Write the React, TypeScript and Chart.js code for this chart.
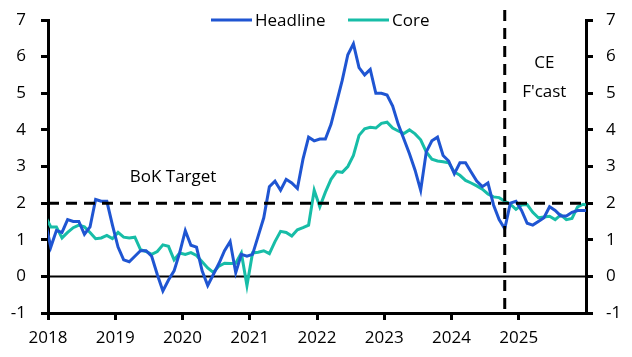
import React, { useEffect, useRef } from "react";
import { Chart, registerables } from "chart.js";

Chart.register(...registerables);

// First observation: Dec 2017 (clipped at the left edge), last: Jan 2026
const START_YEAR = 2017;
const START_MONTH = 12;

const headline = [
  1.5,
  // 2018
  0.8, 1.25, 1.2, 1.55, 1.5, 1.5, 1.15, 1.35, 2.1, 2.05, 2.05, 1.4,
  // 2019
  0.8, 0.45, 0.4, 0.55, 0.7, 0.7, 0.55, 0.05, -0.4, -0.1, 0.15, 0.65,
  // 2020
  1.25, 0.85, 0.8, 0.15, -0.25, 0.05, 0.35, 0.7, 0.95, 0.1, 0.6, 0.55,
  // 2021
  0.6, 1.1, 1.6, 2.45, 2.6, 2.35, 2.65, 2.55, 2.4, 3.2, 3.8, 3.7,
  // 2022
  3.75, 3.75, 4.15, 4.75, 5.35, 6.05, 6.35, 5.7, 5.5, 5.65, 5.0, 5.0,
  // 2023
  4.95, 4.65, 4.15, 3.75, 3.35, 2.9, 2.35, 3.4, 3.7, 3.8, 3.3, 3.15,
  // 2024
  2.8, 3.1, 3.1, 2.85, 2.6, 2.45, 2.55, 1.95, 1.55, 1.3, 2.0, 2.05,
  // 2025
  1.8, 1.45, 1.4, 1.5, 1.6, 1.9, 1.8, 1.65, 1.65, 1.75, 1.8, 1.8,
  // 2026
  1.8,
];

const core = [
  1.65,
  // 2018
  1.35, 1.35, 1.05, 1.2, 1.33, 1.4, 1.35, 1.2, 1.03, 1.05, 1.12, 1.03,
  // 2019
  1.2, 1.07, 1.05, 1.07, 0.73, 0.68, 0.6, 0.68, 0.86, 0.82, 0.45, 0.64,
  // 2020
  0.6, 0.65, 0.57, 0.4, 0.23, 0.11, 0.28, 0.36, 0.35, 0.36, 0.64, -0.25,
  // 2021
  0.64, 0.66, 0.7, 0.62, 0.95, 1.23, 1.2, 1.1, 1.27, 1.33, 1.4, 2.35,
  // 2022
  1.9, 2.3, 2.65, 2.86, 2.84, 3.0, 3.3, 3.85, 4.03, 4.07, 4.05, 4.18,
  // 2023
  4.21, 4.05, 3.97, 3.9, 4.0, 3.89, 3.73, 3.4, 3.2, 3.15, 3.13, 3.1,
  // 2024
  2.85, 2.76, 2.62, 2.55, 2.47, 2.38, 2.25, 2.17, 2.15, 2.05, 1.97, 1.83,
  // 2025
  1.95, 1.96, 1.75, 1.6, 1.62, 1.64, 1.55, 1.68, 1.55, 1.58, 1.9, 1.97,
  // 2026
  1.93,
];

const xYearTicks = [2018, 2019, 2020, 2021, 2022, 2023, 2024, 2025];
const X_MIN = 2018;
const X_MAX = 2026;
const Y_MIN = -1;
const Y_MAX = 7;
const targetRate = 2;
const forecastStart = { year: 2024, month: 10 };

const seriesNames = ["Headline", "Core"];
const seriesColors = ["#1F55D2", "#17BDA7"];

const monthToX = (year: number, month: number) => year + (month - 0.5) / 12;

const monthPositions = headline.map((_, i) => {
  const m = START_MONTH - 1 + i;
  const year = START_YEAR + Math.floor(m / 12);
  const month = (m % 12) + 1;
  return monthToX(year, month);
});

const FONT = "'Open Sans', sans-serif";

const overlayPlugin = {
  id: "overlay",
  beforeDatasetsDraw(chart: any) {
    const { ctx, chartArea, scales } = chart;
    const y = scales.y;
    const y0 = y.getPixelForValue(0);
    ctx.save();
    ctx.strokeStyle = "#000";
    ctx.lineWidth = 2;
    ctx.beginPath();
    ctx.moveTo(chartArea.left, y0);
    ctx.lineTo(chartArea.right, y0);
    ctx.stroke();
    ctx.restore();
  },
  afterDatasetsDraw(chart: any) {
    const { ctx, chartArea, scales } = chart;
    const x = scales.x;
    const y = scales.y;
    ctx.save();
    // Target line
    const y2 = y.getPixelForValue(targetRate);
    ctx.strokeStyle = "#000";
    ctx.lineWidth = 3;
    ctx.setLineDash([11, 7]);
    ctx.beginPath();
    ctx.moveTo(chartArea.left, y2);
    ctx.lineTo(chartArea.right, y2);
    ctx.stroke();
    // Forecast line
    const xf = x.getPixelForValue(monthToX(forecastStart.year, forecastStart.month));
    ctx.beginPath();
    ctx.moveTo(xf, chartArea.top - 10);
    ctx.lineTo(xf, chartArea.bottom);
    ctx.stroke();
    ctx.setLineDash([]);

    // Annotations
    ctx.fillStyle = "#000";
    ctx.font = `17px ${FONT}`;
    ctx.textAlign = "center";
    ctx.textBaseline = "middle";
    ctx.fillText("BoK Target", x.getPixelForValue(2019.86), y.getPixelForValue(2.72));
    ctx.fillText("CE", x.getPixelForValue(2025.38), y.getPixelForValue(5.83));
    ctx.fillText("F'cast", x.getPixelForValue(2025.38), y.getPixelForValue(5.04));

    // Legend
    const ly = chartArea.top;
    const legendStarts = [211, 348];
    ctx.textAlign = "left";
    seriesNames.forEach((name, i) => {
      const lx = legendStarts[i];
      ctx.strokeStyle = seriesColors[i];
      ctx.lineWidth = 3;
      ctx.beginPath();
      ctx.moveTo(lx, ly);
      ctx.lineTo(lx + 41, ly);
      ctx.stroke();
      ctx.fillStyle = "#000";
      ctx.fillText(name, lx + 44, ly + 1);
    });
    ctx.restore();
  },
};

export default function App() {
  const canvasRef = useRef<HTMLCanvasElement | null>(null);

  useEffect(() => {
    if (!canvasRef.current) return;
    Chart.defaults.font.family = FONT;
    Chart.defaults.font.size = 17;
    Chart.defaults.color = "#000";

    const axisTick = {
      drawOnChartArea: false,
      drawTicks: true,
      tickLength: 7,
      tickWidth: 3,
      tickColor: "#000",
      lineWidth: 3,
      color: "#000",
    };

    const fitY = (w: number) => (scale: any) => {
      scale.width = w;
      scale.paddingTop = 0;
      scale.paddingBottom = 0;
    };

    const chart = new Chart(canvasRef.current, {
      type: "line",
      data: {
        datasets: [headline, core].map((vals, i) => ({
          label: seriesNames[i],
          data: vals.map((v, j) => ({ x: monthPositions[j], y: v })),
          borderColor: seriesColors[i],
          backgroundColor: seriesColors[i],
          borderWidth: 3,
          pointRadius: 0,
          tension: 0,
          fill: false,
        })),
      },
      options: {
        animation: false,
        responsive: false,
        maintainAspectRatio: false,
        layout: { padding: { top: 20, left: 0, right: 0, bottom: 0 } },
        plugins: {
          legend: { display: false },
          tooltip: { enabled: false },
        },
        scales: {
          x: {
            type: "linear",
            min: X_MIN,
            max: X_MAX,
            afterBuildTicks: (scale: any) => {
              scale.ticks = [...xYearTicks, X_MAX].map((v) => ({ value: v }));
            },
            afterFit: (scale: any) => {
              scale.height = 44;
              scale.paddingLeft = 0;
              scale.paddingRight = 0;
            },
            ticks: {
              padding: 8,
              maxRotation: 0,
              autoSkip: false,
              callback: (v: any) => (xYearTicks.includes(Number(v)) ? String(v) : null),
            },
            grid: axisTick,
            border: { display: true, width: 3, color: "#000" },
          },
          y: {
            position: "left",
            min: Y_MIN,
            max: Y_MAX,
            afterFit: fitY(48),
            ticks: { stepSize: 1, padding: 15 },
            grid: axisTick,
            border: { display: true, width: 3, color: "#000" },
          },
          y2: {
            position: "right",
            min: Y_MIN,
            max: Y_MAX,
            afterFit: fitY(46),
            ticks: { stepSize: 1, padding: 13 },
            grid: axisTick,
            border: { display: true, width: 3, color: "#000" },
          },
        },
      } as any,
      plugins: [overlayPlugin],
    });
    return () => chart.destroy();
  }, []);

  return (
    <div style={{ position: "absolute", left: 0, top: 0, width: 632, height: 357, background: "#fff" }}>
      <canvas ref={canvasRef} width={632} height={357} style={{ width: 632, height: 357 }} />
    </div>
  );
}
